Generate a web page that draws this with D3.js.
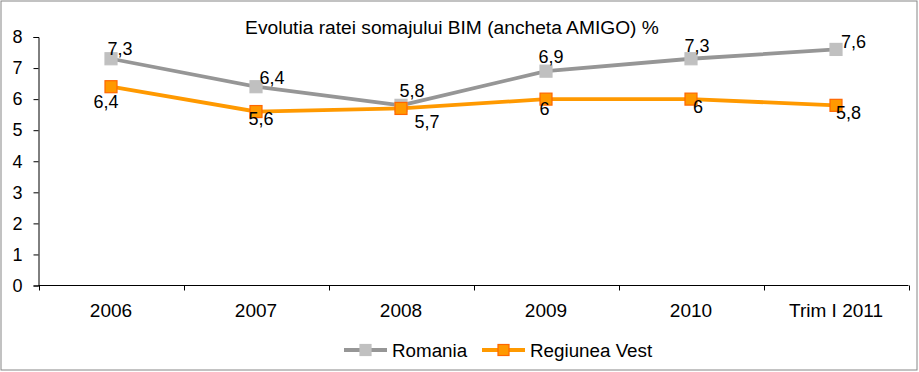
<!DOCTYPE html>
<html><head><meta charset="utf-8">
<script src="https://cdn.jsdelivr.net/npm/d3@7"></script>
<style>body{margin:0;background:#fff}text{font-family:"Liberation Sans",Arial,sans-serif}</style>
</head><body><svg id="c" width="919" height="372"></svg>
<script>
const categories = ["2006","2007","2008","2009","2010","Trim I 2011"];
const romania = [7.3,6.4,5.8,6.9,7.3,7.6];
const vest = [6.4,5.6,5.7,6,6,5.8];
const yTicks = [0,1,2,3,4,5,6,7,8];
const romaniaLabels = ["7,3","6,4","5,8","6,9","7,3","7,6"];
const vestLabels = ["6,4","5,6","5,7","6","6","5,8"];

// label offsets (dx, dy of baseline) relative to marker
const romLabelOff = [[9,-3.5],[16,-2.3],[11,-8.5],[5,-8],[6,-7],[17.5,-1]];
const vestLabelOff = [[-5,21],[5,13.6],[26,20],[-1.5,16],[7,14],[12.5,14]];

const FONT = "Liberation Sans, Arial, sans-serif";
const svg = d3.select("#c");
svg.append("rect").attr("x",1).attr("y",1).attr("width",916).attr("height",369)
  .attr("fill","#fff").attr("stroke","#868686").attr("stroke-width",1);

const L=38.5, R=908.5, T=37, B=285.5;
const x = d3.scaleBand().domain(categories).range([L,R]);
const y = d3.scaleLinear().domain([0,8]).range([B,T]);

svg.append("text").attr("x",452).attr("y",34).attr("text-anchor","middle")
  .attr("font-size",19.2).text("Evolutia ratei somajului BIM (ancheta AMIGO) %");

// y axis
const ya = svg.append("g").attr("transform",`translate(${L},0)`)
  .call(d3.axisLeft(y).tickValues(yTicks).tickSize(5).tickPadding(11).tickFormat(d3.format("d")));
ya.select(".domain").attr("stroke","#000");
ya.selectAll("text").attr("font-size",18).attr("fill","#000").attr("font-family",FONT);
ya.selectAll("line").attr("stroke","#000");

// x axis
const xa = svg.append("g").attr("transform",`translate(0,${B})`)
  .call(d3.axisBottom(x).tickSize(0).tickPadding(18));
xa.select(".domain").attr("stroke","#000").attr("d",`M${L},0H${R}`);
xa.selectAll("text").attr("font-size",19).attr("fill","#000").attr("font-family",FONT);
const bounds = categories.map((c)=>x(c)).concat([R]);
xa.selectAll(".bt").data(bounds).enter().append("line").attr("class","bt")
  .attr("x1",d=>Math.round(d)+0.5).attr("x2",d=>Math.round(d)+0.5).attr("y1",0).attr("y2",5).attr("stroke","#000");

const cx = c => x(c)+x.bandwidth()/2;
const line = d3.line().x((d,i)=>cx(categories[i])).y(d=>y(d));

function series(vals, lineColor, fill, stroke, labels, offs){
  svg.append("path").datum(vals).attr("d",line).attr("fill","none")
    .attr("stroke",lineColor).attr("stroke-width",3.8).attr("stroke-linejoin","round");
  svg.selectAll(null).data(vals).enter().append("rect")
    .attr("x",(d,i)=>cx(categories[i])-6).attr("y",d=>y(d)-6).attr("width",12).attr("height",12)
    .attr("fill",fill).attr("stroke",stroke).attr("stroke-width",1.2);
  svg.selectAll(null).data(vals).enter().append("text")
    .attr("x",(d,i)=>cx(categories[i])+offs[i][0]).attr("y",(d,i)=>y(d)+offs[i][1])
    .attr("text-anchor","middle").attr("font-size",18).text((d,i)=>labels[i]);
}
series(romania,"#969696","#c0c0c0","#c0c0c0",romaniaLabels,romLabelOff);
series(vest,"#ff9900","#ff9900","#ff6600",vestLabels,vestLabelOff);

// legend
const lg = svg.append("g");
function legItem(x0, lineColor, fill, stroke, label){
  lg.append("line").attr("x1",x0).attr("x2",x0+43).attr("y1",350).attr("y2",350)
    .attr("stroke",lineColor).attr("stroke-width",3.8);
  lg.append("rect").attr("x",x0+16).attr("y",344.5).attr("width",11).attr("height",11)
    .attr("fill",fill).attr("stroke",stroke).attr("stroke-width",1.2);
  lg.append("text").attr("x",x0+48).attr("y",357).attr("font-size",18.8).text(label);
}
legItem(344,"#969696","#c0c0c0","#c0c0c0","Romania");
legItem(482,"#ff9900","#ff9900","#ff6600","Regiunea Vest");
</script></body></html>
